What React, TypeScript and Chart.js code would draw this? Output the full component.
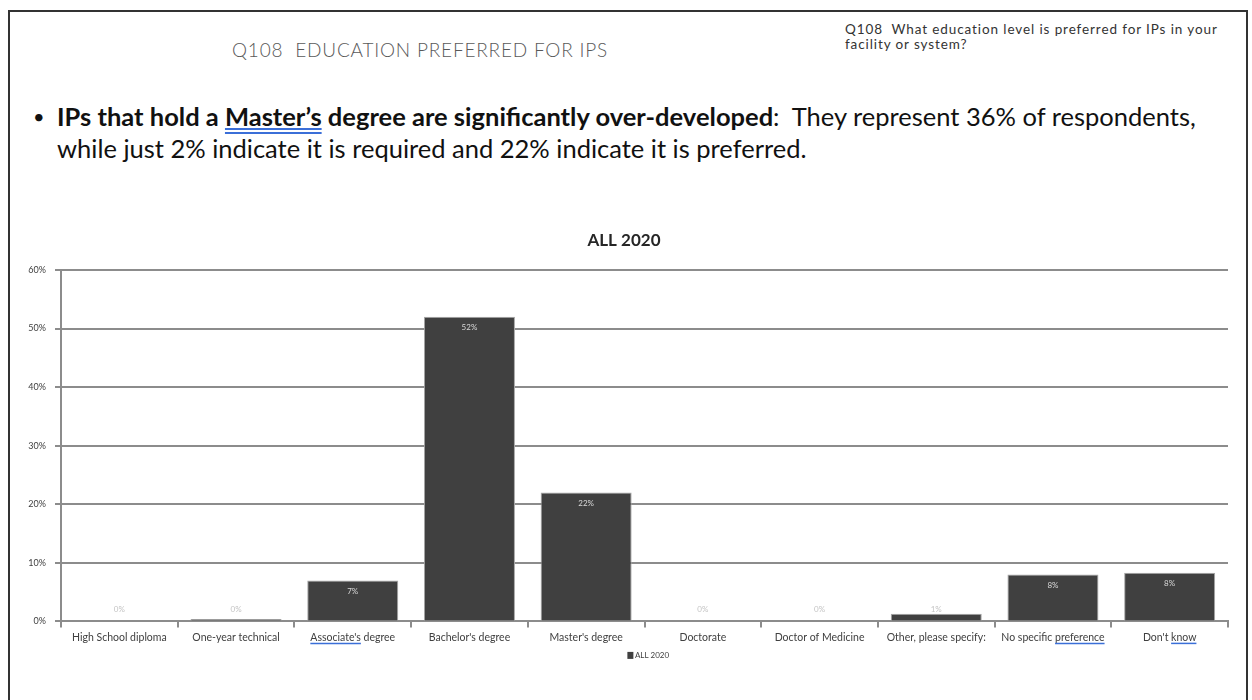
import React, { useEffect, useRef } from "react";
import { Chart, registerables } from "chart.js";

Chart.register(...registerables);

const categories = [
  "High School diploma",
  "One-year technical",
  "Associate's degree",
  "Bachelor's degree",
  "Master's degree",
  "Doctorate",
  "Doctor of Medicine",
  "Other, please specify:",
  "No specific preference",
  "Don't know",
];
const values = [0, 0.4, 7, 52, 22, 0, 0, 1.3, 8, 8.3];
const valueLabels = ["0%", "0%", "7%", "52%", "22%", "0%", "0%", "1%", "8%", "8%"];
const yTickValues = [0, 10, 20, 30, 40, 50, 60];
const seriesName = "ALL 2020";
const chartTitle = "ALL 2020";
// words flagged by a blue spell-check underline: [category index, word, at end?]
const flaggedWords: [number, string, boolean][] = [
  [2, "Associate's", false],
  [8, "preference", true],
  [9, "know", true],
];

const FONT = "Lato, 'Open Sans', sans-serif";
const XFONT_SIZE = 10.5;

const labelPlugin = {
  id: "valLabels",
  afterDatasetsDraw(chart: any) {
    const ctx = chart.ctx;
    const meta = chart.getDatasetMeta(0);
    const base = chart.scales.y.getPixelForValue(0);
    ctx.save();
    ctx.font = `8px ${FONT}`;
    ctx.textAlign = "center";
    ctx.textBaseline = "middle";
    meta.data.forEach((bar: any, i: number) => {
      const y = Math.min(bar.y + 11, base - 12);
      ctx.fillStyle = values[i] >= 3 ? "#d9d9d9" : "#c4c4c4";
      ctx.fillText(valueLabels[i], bar.x, y);
    });
    ctx.restore();
  },
  afterDraw(chart: any) {
    const ctx = chart.ctx;
    const xs = chart.scales.x;
    const base = chart.scales.y.getPixelForValue(0);
    ctx.save();
    // spell-check underlines
    ctx.font = `${XFONT_SIZE}px ${FONT}`;
    ctx.strokeStyle = "#3b6fd8";
    ctx.lineWidth = 1.5;
    const uy = base + 22;
    flaggedWords.forEach(([idx, word, atEnd]) => {
      const cx = xs.getPixelForValue(idx);
      const full = ctx.measureText(categories[idx]).width;
      const w = ctx.measureText(word).width;
      const x0 = atEnd ? cx + full / 2 - w : cx - full / 2;
      ctx.beginPath();
      ctx.moveTo(x0, uy);
      ctx.lineTo(x0 + w, uy);
      ctx.stroke();
    });
    // legend
    const ly = base + 34;
    const cx = (chart.chartArea.left + chart.chartArea.right) / 2;
    ctx.font = `8px ${FONT}`;
    const tw = ctx.measureText(seriesName).width;
    const start = cx - (tw + 8) / 2 + 4;
    ctx.fillStyle = "#404040";
    ctx.fillRect(start, ly - 3.5, 6, 7);
    ctx.textAlign = "left";
    ctx.textBaseline = "middle";
    ctx.fillText(seriesName, start + 7.5, ly);
    ctx.restore();
  },
};

function BarChart() {
  const ref = useRef<HTMLCanvasElement | null>(null);
  useEffect(() => {
    if (!ref.current) return;
    const chart = new Chart(ref.current, {
      type: "bar",
      data: {
        labels: categories,
        datasets: [
          {
            label: seriesName,
            data: values,
            backgroundColor: "#404040",
            borderColor: "#a6a6a6",
            borderWidth: 1,
            barPercentage: 0.78,
            categoryPercentage: 1,
          },
        ],
      },
      options: {
        animation: false,
        responsive: false,
        maintainAspectRatio: false,
        layout: { padding: { left: 0, right: 12, top: 0, bottom: 20 } },
        plugins: {
          tooltip: { enabled: false },
          title: {
            display: true,
            text: chartTitle,
            color: "#262626",
            font: { family: FONT, size: 17, weight: "bold" },
            padding: { top: 2, bottom: 19.6 },
          },
          legend: { display: false },
        },
        scales: {
          x: {
            grid: {
              display: true,
              offset: true,
              drawOnChartArea: false,
              drawTicks: true,
              tickLength: 6,
              color: "#8c8c8c",
              lineWidth: 2,
            },
            border: { display: true, color: "#8c8c8c", width: 2 },
            ticks: {
              color: "#404040",
              font: { family: FONT, size: XFONT_SIZE },
              maxRotation: 0,
              autoSkip: false,
              padding: 4,
            },
          },
          y: {
            min: 0,
            max: 60,
            afterBuildTicks(scale: any) {
              scale.ticks = yTickValues.map((v) => ({ value: v }));
            },
            afterFit(scale: any) {
              scale.width = 41;
            },
            grid: {
              color: "#8c8c8c",
              lineWidth: 2,
              drawTicks: true,
              tickLength: 6,
            },
            border: { display: true, color: "#8c8c8c", width: 2 },
            ticks: {
              color: "#404040",
              font: { family: FONT, size: 9 },
              padding: 9,
              callback: (v: any) => `${v}%`,
            },
          },
        },
      },
      plugins: [labelPlugin],
    });
    return () => chart.destroy();
  }, []);
  return (
    <canvas
      ref={ref}
      width={1220}
      height={440}
      style={{ position: "absolute", left: 20, top: 228, width: 1220, height: 440 }}
    />
  );
}

export default function App() {
  useEffect(() => {
    document.body.style.margin = "0";
  }, []);
  return (
    <div
      style={{
        position: "relative",
        width: 1252,
        height: 700,
        background: "#fff",
        overflow: "hidden",
        fontFamily: FONT,
      }}
    >
      <div
        style={{
          position: "absolute",
          left: 8,
          top: 10,
          width: 1236,
          height: 720,
          border: "2.5px solid #333",
        }}
      />
      <div
        style={{
          position: "absolute",
          left: 232,
          top: 37,
          fontSize: 19,
          lineHeight: "26px",
          letterSpacing: 0.8,
          color: "#595959",
          whiteSpace: "nowrap",
          fontWeight: 300,
        }}
      >
        Q108&nbsp;&nbsp;EDUCATION PREFERRED FOR IPS
      </div>
      <div
        style={{
          position: "absolute",
          left: 845,
          top: 22,
          fontSize: 13.5,
          lineHeight: "15px",
          letterSpacing: 0.9,
          color: "#333",
          whiteSpace: "nowrap",
        }}
      >
        Q108&nbsp;&nbsp;What education level is preferred for IPs in your
        <br />
        facility or system?
      </div>
      <div
        style={{
          position: "absolute",
          left: 33,
          top: 100,
          fontSize: 20,
          lineHeight: "32px",
          color: "#111",
        }}
      >
        •
      </div>
      <div
        style={{
          position: "absolute",
          left: 57,
          top: 100,
          fontSize: 25.5,
          lineHeight: "32px",
          color: "#111",
          whiteSpace: "nowrap",
        }}
      >
        <span style={{ fontWeight: 700 }}>
          IPs that hold a{" "}
          <span
            style={{
              textDecorationLine: "underline",
              textDecorationStyle: "double",
              textDecorationColor: "#3b6fd8",
            }}
          >
            Master’s
          </span>{" "}
          degree are significantly over-developed
        </span>
        :&nbsp; They represent 36% of respondents,
        <br />
        while just 2% indicate it is required and 22% indicate it is preferred.
      </div>
      <BarChart />
    </div>
  );
}
